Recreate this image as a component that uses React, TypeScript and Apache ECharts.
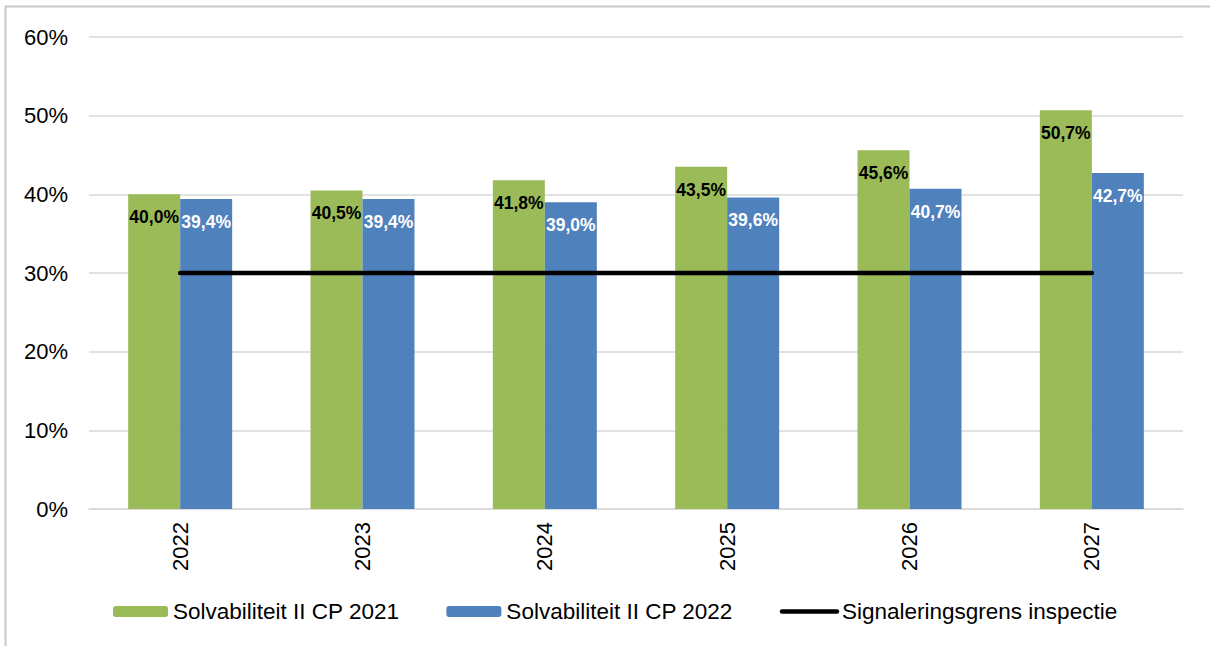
import React, { useEffect, useRef } from "react";
import * as echarts from "echarts";

const categories = ["2022", "2023", "2024", "2025", "2026", "2027"];
const cp2021 = [40.0, 40.5, 41.8, 43.5, 45.6, 50.7];
const cp2022 = [39.4, 39.4, 39.0, 39.6, 40.7, 42.7];
const signaleringsgrens = [30, 30, 30, 30, 30, 30];
const seriesNames = ["Solvabiliteit II CP 2021", "Solvabiliteit II CP 2022", "Signaleringsgrens inspectie"];

const FONT = "'Liberation Sans', Arial, sans-serif";
const fmt = (v: number) => v.toFixed(1).replace(".", ",") + "%";

export default function App() {
  const ref = useRef<HTMLDivElement>(null);
  useEffect(() => {
    if (!ref.current) return;
    const chart = echarts.init(ref.current, undefined, { renderer: "svg" });
    chart.setOption({
      animation: false,
      backgroundColor: "#ffffff",
      textStyle: { fontFamily: FONT },
      grid: { left: 89, right: 27, top: 37, bottom: 137, containLabel: false },
      xAxis: {
        type: "category",
        data: categories,
        boundaryGap: true,
        axisLine: { lineStyle: { color: "#d9d9d9", width: 1.5 } },
        axisTick: { show: false },
        axisLabel: { rotate: 90, fontSize: 22, color: "#000", margin: 13, fontFamily: FONT },
      },
      yAxis: {
        type: "value",
        min: 0,
        max: 60,
        interval: 10,
        axisLine: { show: false },
        axisTick: { show: false },
        splitLine: { lineStyle: { color: "#d9d9d9", width: 1.5 } },
        axisLabel: { formatter: (v: number) => v + "%", fontSize: 22, color: "#000", margin: 21, fontFamily: FONT },
      },
      legend: {
        left: 113,
        top: 600,
        padding: 0,
        itemGap: 47,
        itemWidth: 55,
        itemHeight: 11,
        textStyle: { fontSize: 22.5, color: "#000", fontFamily: FONT },
        data: [
          { name: seriesNames[0] },
          { name: seriesNames[1] },
          {
            name: seriesNames[2],
            itemStyle: { color: "transparent", borderWidth: 0, opacity: 0 },
            lineStyle: { width: 4.5, color: "#000", cap: "round" },
          },
        ],
      },
      graphic: [
        { type: "line", shape: { x1: 5, y1: 6.5, x2: 1210, y2: 6.5 }, style: { stroke: "#c8c8c8", lineWidth: 2 } },
        { type: "line", shape: { x1: 5.5, y1: 6, x2: 5.5, y2: 646 }, style: { stroke: "#c8c8c8", lineWidth: 2 } },
      ],
      series: [
        {
          name: seriesNames[0],
          type: "bar",
          data: cp2021,
          barWidth: 52,
          barGap: "0%",
          itemStyle: { color: "#9BBB59" },
          label: {
            show: true,
            position: "insideTop",
            distance: 14,
            formatter: (p: any) => fmt(p.value),
            color: "#000",
            fontWeight: "bold",
            fontSize: 17.5,
            fontFamily: FONT,
          },
        },
        {
          name: seriesNames[1],
          type: "bar",
          data: cp2022,
          barWidth: 52,
          barGap: "0%",
          itemStyle: { color: "#4F81BD" },
          label: {
            show: true,
            position: "insideTop",
            distance: 14,
            formatter: (p: any) => fmt(p.value),
            color: "#fff",
            fontWeight: "bold",
            fontSize: 17.5,
            fontFamily: FONT,
          },
        },
        {
          name: seriesNames[2],
          type: "line",
          data: signaleringsgrens,
          symbol: "none",
          z: 5,
          lineStyle: { color: "#000", width: 4.5, cap: "round" },
          itemStyle: { color: "#000" },
        },
      ],
    });
    return () => chart.dispose();
  }, []);
  return (
    <div
      ref={ref}
      style={{ position: "absolute", left: 0, top: 0, width: 1210, height: 646 }}
    />
  );
}
